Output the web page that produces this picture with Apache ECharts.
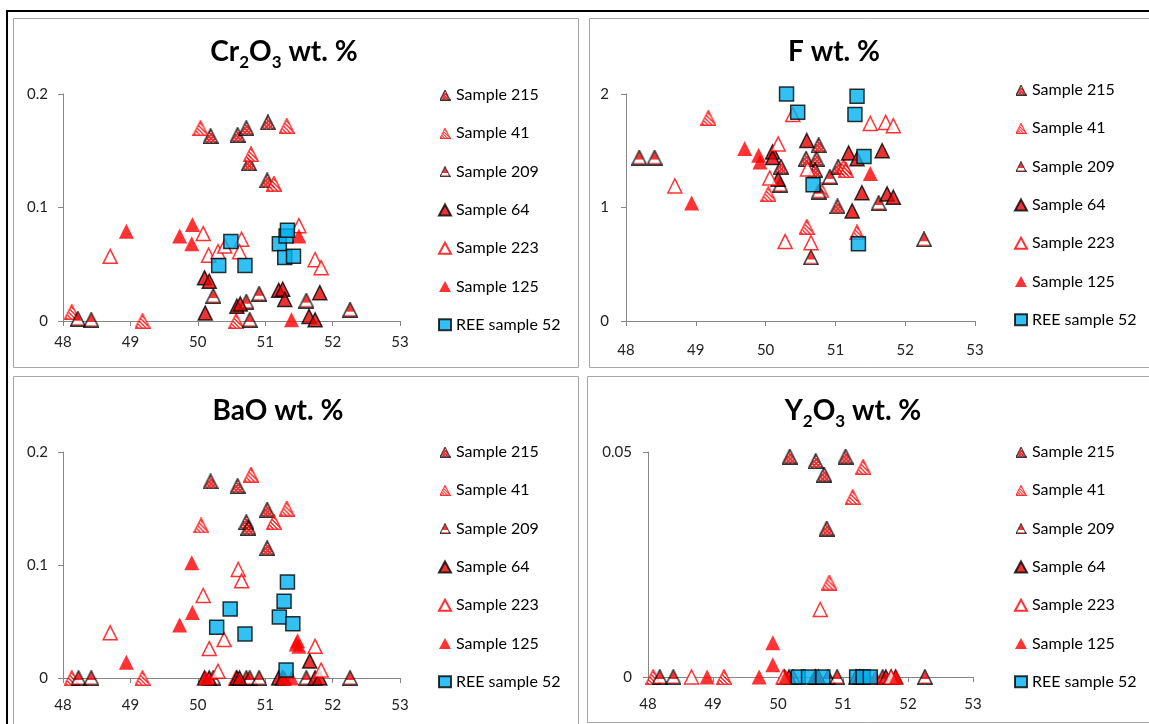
<!DOCTYPE html>
<html>
<head>
<meta charset="utf-8">
<script src="https://cdn.jsdelivr.net/npm/echarts@6/dist/echarts.min.js"></script>
<style>
  html, body { margin: 0; padding: 0; background: #fff; }
  #chart { width: 1149px; height: 724px; }
</style>
</head>
<body>
<div id="chart"></div>
<script>
const sampleNames = ['Sample 215', 'Sample 41', 'Sample 209', 'Sample 64', 'Sample 223', 'Sample 125', 'REE sample 52'];

// x axis (all panels)
const xRange = [48, 53];
// y axis max / step per panel
const yMax = [0.2, 2, 0.2, 0.05];
const yStep = [0.1, 1, 0.1, 0.05];

// Cr2O3 wt.% : [x, value]
const cr215 = [[50.19, 0.163], [50.59, 0.164], [50.72, 0.170], [51.04, 0.175], [50.76, 0.139], [51.03, 0.124]];
const cr41 = [[48.13, 0.008], [49.18, 0], [50.04, 0.170], [51.32, 0.172], [50.79, 0.147], [51.13, 0.121], [50.57, 0]];
const cr209 = [[48.22, 0.002], [48.42, 0.001], [50.23, 0.022], [50.72, 0.017], [50.91, 0.024], [51.61, 0.018], [52.26, 0.010], [50.77, 0.001]];
const cr64 = [[50.10, 0.038], [50.17, 0.035], [50.11, 0.007], [50.58, 0.013], [50.63, 0.015], [51.20, 0.027], [51.26, 0.028], [51.29, 0.019], [51.81, 0.025], [51.65, 0.004], [51.74, 0.001]];
const cr223 = [[48.70, 0.057], [50.08, 0.077], [50.16, 0.058], [50.30, 0.061], [50.40, 0.066], [50.65, 0.072], [50.62, 0.061], [51.50, 0.084], [51.74, 0.054], [51.83, 0.047]];
const cr125 = [[48.94, 0.079], [49.73, 0.075], [49.92, 0.085], [49.91, 0.068], [51.50, 0.075], [51.39, 0.001]];
const crREE = [[50.31, 0.049], [50.49, 0.070], [50.70, 0.049], [51.21, 0.068], [51.31, 0.075], [51.33, 0.080], [51.29, 0.056], [51.42, 0.057]];

// F wt.%
const f215 = [[50.22, 1.36], [50.58, 1.43], [50.73, 1.43], [50.76, 1.55], [50.71, 1.33], [51.04, 1.36], [51.03, 1.01]];
const f41 = [[49.18, 1.79], [50.04, 1.12], [50.80, 1.15], [51.12, 1.36], [51.15, 1.33], [50.59, 0.83], [51.31, 0.78]];
const f209 = [[48.19, 1.44], [48.41, 1.44], [50.21, 1.20], [50.76, 1.14], [50.92, 1.27], [51.62, 1.04], [50.65, 0.56], [52.27, 0.72]];
const f64 = [[50.10, 1.49], [50.10, 1.44], [50.18, 1.25], [50.59, 1.59], [51.19, 1.48], [51.31, 1.43], [51.67, 1.50], [51.38, 1.13], [51.74, 1.12], [51.83, 1.09], [51.24, 0.97]];
const f223 = [[48.70, 1.19], [50.06, 1.26], [50.18, 1.56], [50.28, 0.70], [50.39, 1.82], [50.60, 1.34], [50.65, 0.69], [51.50, 1.74], [51.72, 1.75], [51.83, 1.72]];
const f125 = [[48.94, 1.04], [49.70, 1.52], [49.90, 1.46], [49.92, 1.40], [51.50, 1.30]];
const fREE = [[50.30, 2.00], [50.46, 1.84], [50.68, 1.20], [51.31, 1.98], [51.28, 1.82], [51.41, 1.45], [51.33, 0.68]];

// BaO wt.%
const ba215 = [[50.19, 0.174], [50.59, 0.170], [51.03, 0.149], [50.72, 0.138], [50.75, 0.133], [51.03, 0.115]];
const ba41 = [[48.13, 0], [49.18, 0], [50.05, 0.135], [50.79, 0.180], [51.32, 0.150], [51.13, 0.138], [50.57, 0]];
const ba209 = [[48.23, 0], [48.42, 0], [50.23, 0], [50.72, 0], [50.77, 0], [50.91, 0], [51.61, 0], [52.26, 0]];
const ba64 = [[50.10, 0], [50.17, 0], [50.58, 0], [50.62, 0], [51.20, 0], [51.26, 0], [51.66, 0.015], [51.74, 0], [51.81, 0]];
const ba223 = [[48.70, 0.040], [50.08, 0.073], [50.17, 0.026], [50.30, 0.006], [50.39, 0.034], [50.60, 0.096], [50.65, 0.086], [51.74, 0.028], [51.83, 0.007]];
const ba125 = [[48.94, 0.014], [49.73, 0.047], [49.91, 0.102], [49.92, 0.058], [51.46, 0.030], [51.48, 0.033], [51.50, 0.028], [51.29, 0], [51.39, 0], [50.12, 0]];
const baREE = [[50.28, 0.045], [50.48, 0.061], [50.70, 0.039], [51.21, 0.054], [51.28, 0.068], [51.33, 0.085], [51.41, 0.048], [51.31, 0.007]];

// Y2O3 wt.%
const y215 = [[50.18, 0.049], [50.58, 0.048], [50.71, 0.045], [51.04, 0.049], [50.75, 0.033]];
const y41 = [[48.08, 0], [49.17, 0], [50.57, 0], [50.79, 0.021], [51.15, 0.040], [51.31, 0.0467]];
const y209 = [[48.18, 0], [48.39, 0], [50.23, 0], [50.77, 0], [50.91, 0], [51.61, 0], [52.26, 0]];
const y64 = [[50.10, 0], [50.17, 0], [50.58, 0], [50.62, 0], [51.20, 0], [51.26, 0], [51.66, 0], [51.74, 0], [51.81, 0]];
const y223 = [[48.67, 0], [50.08, 0], [50.65, 0.015], [51.74, 0]];
const y125 = [[48.91, 0], [49.71, 0], [49.92, 0.0076], [49.92, 0.0027], [50.12, 0], [51.39, 0], [51.50, 0], [51.82, 0]];
const yREE = [[50.31, 0], [50.47, 0], [50.69, 0], [51.21, 0], [51.31, 0], [51.42, 0]];

const panelData = [
  [cr215, cr41, cr209, cr64, cr223, cr125, crREE],
  [f215, f41, f209, f64, f223, f125, fREE],
  [ba215, ba41, ba209, ba64, ba223, ba125, baREE],
  [y215, y41, y209, y64, y223, y125, yREE]
];

// excel-like patterned triangle markers, drawn once into small canvases
const MARK = 16;
function triMarker(fill, stroke) {
  const n = MARK;
  const c = document.createElement('canvas');
  c.width = n; c.height = n;
  const ctx = c.getContext('2d');
  ctx.beginPath();
  ctx.moveTo(n / 2, 0.75);
  ctx.lineTo(n - 0.75, n - 0.75);
  ctx.lineTo(0.75, n - 0.75);
  ctx.closePath();
  ctx.save();
  ctx.clip();
  fill(ctx, n);
  ctx.restore();
  ctx.lineWidth = 1.5;
  ctx.strokeStyle = stroke;
  ctx.stroke();
  return 'image://' + c.toDataURL();
}
const sym215 = triMarker((ctx, n) => {
  ctx.fillStyle = '#e00000'; ctx.fillRect(0, 0, n, n);
  ctx.fillStyle = '#ffffff';
  for (let x = 0; x < n; x += 2) for (let y = 0; y < n; y += 2) {
    if ((x + y) % 4 === 0) ctx.fillRect(x, y, 1, 1);
  }
}, '#000');
const sym41 = triMarker((ctx, n) => {
  ctx.fillStyle = '#ffffff'; ctx.fillRect(0, 0, n, n);
  ctx.fillStyle = '#ff0000';
  for (let x = 0; x < n; x++) for (let y = 0; y < n; y++) {
    if ((((x - y) % 4) + 4) % 4 < 2) ctx.fillRect(x, y, 1, 1);
  }
}, '#ff0000');
const sym209 = triMarker((ctx, n) => {
  ctx.fillStyle = '#ff0000'; ctx.fillRect(0, 0, n, n);
  ctx.fillStyle = '#ffffff'; ctx.fillRect(0, n - 6, n, 3.5);
}, '#000');

const markerStyles = [
  { symbol: sym215, size: MARK, itemStyle: {} },
  { symbol: sym41, size: MARK, itemStyle: {} },
  { symbol: sym209, size: MARK, itemStyle: {} },
  { symbol: 'triangle', size: 14, itemStyle: { color: '#e60000', borderColor: '#000', borderWidth: 1.5 } },
  { symbol: 'triangle', size: 14, itemStyle: { color: '#ffffff', borderColor: '#ff0000', borderWidth: 1.5 } },
  { symbol: 'triangle', size: 15, itemStyle: { color: '#ff0000', borderWidth: 0 } },
  { symbol: 'rect', size: 14, itemStyle: { color: '#00b0f0', borderColor: '#000', borderWidth: 1.5 } }
];

const grids = [
  { left: 63, top: 94, width: 337, height: 227 },
  { left: 626, top: 94, width: 349, height: 227 },
  { left: 63, top: 452, width: 337, height: 226 },
  { left: 648, top: 452, width: 325, height: 225 }
];
const xLabelMargin = [14, 22, 20, 20];
const yLabelMargin = [15, 17, 15, 16];

const font = 'Lato, "Noto Sans", sans-serif';
const axisGray = '#868686';

const titleRich = {
  a: { fontSize: 28, fontWeight: 'bold', fontFamily: font, color: '#000', lineHeight: 30, verticalAlign: 'top' },
  s: { fontSize: 17, fontWeight: 'bold', fontFamily: font, color: '#000', lineHeight: 50 }
};
const titles = [
  { text: '{a|Cr}{s|2}{a|O}{s|3}{a| wt. %}', left: 284, top: 38 },
  { text: '{a|F wt. %}', left: 834, top: 38 },
  { text: '{a|BaO wt. %}', left: 278, top: 397 },
  { text: '{a|Y}{s|2}{a|O}{s|3}{a| wt. %}', left: 853, top: 397 }
];

const legendPos = [
  { left: 438, top: 87 },
  { left: 1014, top: 82 },
  { left: 438, top: 444 },
  { left: 1014, top: 444 }
];

const series = [];
panelData.forEach((sets, p) => {
  sets.forEach((d, i) => {
    const st = markerStyles[i];
    series.push({
      name: sampleNames[i],
      type: 'scatter',
      xAxisIndex: p,
      yAxisIndex: p,
      data: d,
      symbol: st.symbol,
      symbolSize: st.size,
      itemStyle: st.itemStyle,
      emphasis: { disabled: true }
    });
  });
});

const chart = echarts.init(document.getElementById('chart'));
chart.setOption({
  animation: false,
  backgroundColor: '#fff',
  title: titles.map(t => ({
    text: t.text, left: t.left, top: t.top, textAlign: 'center', padding: 0,
    textStyle: { rich: titleRich }
  })),
  grid: grids,
  xAxis: grids.map((g, i) => ({
    type: 'value', gridIndex: i, min: xRange[0], max: xRange[1], interval: 1,
    axisLine: { show: true, onZero: false, lineStyle: { color: axisGray, width: 1 } },
    axisTick: { show: true, length: 5, lineStyle: { color: axisGray } },
    splitLine: { show: false },
    axisLabel: { margin: xLabelMargin[i], fontSize: 15, fontFamily: font, color: '#222' }
  })),
  yAxis: grids.map((g, i) => ({
    type: 'value', gridIndex: i, min: 0, max: yMax[i], interval: yStep[i],
    axisLine: { show: true, onZero: false, lineStyle: { color: axisGray, width: 1 } },
    axisTick: { show: true, length: 5, lineStyle: { color: axisGray } },
    splitLine: { show: false },
    axisLabel: { margin: yLabelMargin[i], fontSize: 15, fontFamily: font, color: '#222' }
  })),
  legend: legendPos.map(p => ({
    left: p.left, top: p.top, orient: 'vertical', padding: 0,
    data: sampleNames, selectedMode: false,
    itemWidth: 12, itemHeight: 11, itemGap: 22.3,
    textStyle: { fontSize: 16, fontFamily: font, color: '#000', lineHeight: 14 }
  })),
  graphic: [
    { type: 'rect', shape: { x: 13.5, y: 18.5, width: 565, height: 349 }, style: { fill: 'none', stroke: '#a6a6a6', lineWidth: 1 } },
    { type: 'rect', shape: { x: 589.5, y: 18.5, width: 600, height: 349 }, style: { fill: 'none', stroke: '#a6a6a6', lineWidth: 1 } },
    { type: 'rect', shape: { x: 13.5, y: 376.5, width: 565, height: 400 }, style: { fill: 'none', stroke: '#a6a6a6', lineWidth: 1 } },
    { type: 'rect', shape: { x: 587.5, y: 376.5, width: 600, height: 346 }, style: { fill: 'none', stroke: '#a6a6a6', lineWidth: 1 } },
    { type: 'line', shape: { x1: 6, y1: 11, x2: 1149, y2: 11 }, style: { stroke: '#000', lineWidth: 2 } },
    { type: 'line', shape: { x1: 7, y1: 10, x2: 7, y2: 724 }, style: { stroke: '#000', lineWidth: 2 } }
  ],
  series: series
});
</script>
</body>
</html>
